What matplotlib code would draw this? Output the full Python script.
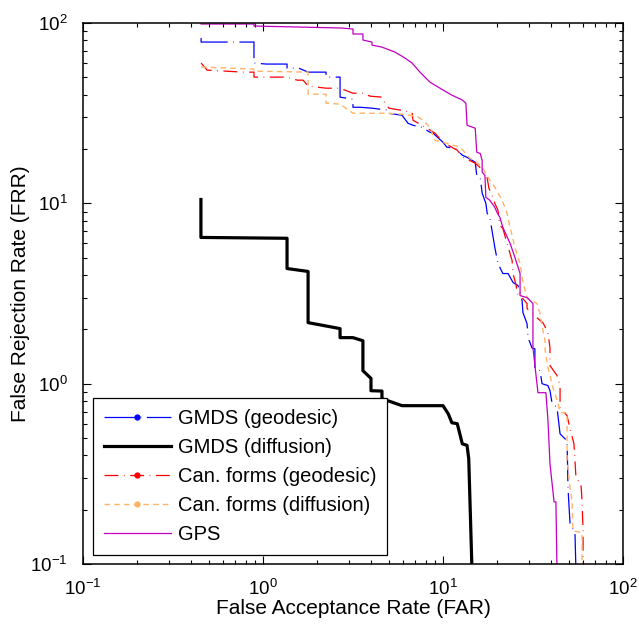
import numpy as np
import matplotlib
matplotlib.use("Agg")
import matplotlib.pyplot as plt
from matplotlib.lines import Line2D
from matplotlib.ticker import LogLocator, NullFormatter

plt.rcParams['font.family'] = ['Liberation Sans', 'DejaVu Sans']
plt.rcParams['mathtext.fontset'] = 'custom'
plt.rcParams['mathtext.rm'] = 'Liberation Sans'
plt.rcParams['axes.unicode_minus'] = False
plt.rcParams['lines.scale_dashes'] = False

# ── DATA: (FAR, FRR) vertices of each ROC step curve, in percent
gmds_geo_far = [0.453, 0.453, 0.891, 0.891, 1.04, 1.36, 1.36, 1.58, 1.78, 2.24, 2.24, 2.68, 2.68,
                3.16, 3.16, 3.46, 4.03, 4.89, 4.95, 5.92, 6.39, 6.81, 7.64, 8.46, 8.80, 10.0, 10.5,
                11.7, 12.8, 13.6, 15.1, 15.4, 16.1, 16.5, 17.3, 17.6, 18.2, 19.0, 19.4, 20.2, 21.5,
                23.0, 24.5, 26.1, 27.5, 27.8, 29.3, 29.7, 31.2, 32.4, 32.4, 34.6, 35.5, 38.3, 39.3,
                40.3, 43.0, 44.7, 48.9, 49.5, 50.8, 54.1, 54.8]
gmds_geo_frr = [82.5, 78.4, 78.4, 60.0, 59.2, 59.2, 56.2, 56.2, 53.4, 53.4, 50.1, 50.1, 38.8,
                37.8, 34.1, 34.1, 33.7, 32.9, 31.6, 30.8, 27.8, 27.1, 26.4, 24.8, 24.5, 21.8, 20.5,
                20.2, 18.5, 18.0, 16.9, 14.3, 13.9, 11.4, 10.0, 8.80, 8.36, 6.47, 5.70, 4.64, 4.08,
                4.08, 3.64, 3.50, 2.89, 2.48, 2.15, 1.80, 1.58, 1.56, 1.21, 1.18, 1.0, 0.975, 0.914,
                0.784, 0.736, 0.527, 0.482, 0.261, 0.167, 0.149, 0.09]

gmds_dif_far = [0.452, 0.452, 1.36, 1.36, 1.78, 1.78, 2.68, 2.68, 3.16, 3.59, 3.59, 3.98, 3.98,
                4.58, 4.58, 5.92, 10.0, 10.7, 11.2, 12.0, 12.8, 13.6, 13.9, 14.5]
gmds_dif_frr = [10.5, 6.47, 6.40, 4.35, 4.19, 2.18, 2.02, 1.80, 1.80, 1.73, 1.18, 1.07, 0.914,
                0.91, 0.826, 0.755, 0.755, 0.68, 0.607, 0.60, 0.464, 0.455, 0.383, 0.09]

can_geo_far = [0.453, 0.489, 0.774, 0.891, 0.891, 1.36, 1.55, 1.67, 1.78, 2.24, 2.68, 3.16, 3.59,
               3.93, 4.58, 4.64, 5.01, 6.31, 6.73, 6.81, 8.15, 9.03, 10.0, 12.0, 12.9, 15.1, 17.1,
               17.6, 18.0, 19.0, 19.4, 20.2, 20.7, 21.5, 22.7, 24.2, 24.5, 25.5, 25.8, 27.5, 29.3,
               29.3, 34.6, 35.9, 38.3, 39.3, 39.3, 43.0, 44.7, 44.7, 48.9, 50.8, 53.4, 54.8, 58.4,
               59.2, 60.0, 60.0]
can_geo_frr = [60.0, 54.8, 53.4, 53.4, 50.1, 50.1, 48.2, 48.2, 44.7, 43.5, 43.5, 40.8, 40.8,
               39.3, 38.8, 37.4, 33.7, 32.4, 32.0, 28.9, 26.1, 24.5, 21.8, 19.7, 18.0, 16.7, 14.9,
               13.8, 12.1, 10.7, 10.0, 9.15, 7.55, 7.26, 5.99, 4.82, 4.08, 3.50, 3.16, 3.00, 2.78,
               2.61, 2.24, 2.18, 1.92, 1.58, 1.26, 1.11, 0.975, 0.736, 0.664, 0.562, 0.464, 0.301,
               0.278, 0.224, 0.153, 0.09]

can_dif_far = [0.453, 0.891, 0.891, 1.78, 1.78, 1.78, 2.24, 2.24, 2.68, 3.16, 4.89, 5.92, 7.17,
               7.74, 8.46, 9.03, 10.5, 12.4, 12.9, 14.1, 15.4, 16.7, 18.2, 19.4, 21.3, 22.7, 23.3,
               25.1, 26.8, 27.8, 29.3, 33.3, 34.6, 35.9, 36.9, 36.9, 38.3, 40.8, 43.5, 44.7, 48.9,
               48.9, 50.8, 52.1, 52.7, 59.2, 59.2]
can_dif_frr = [57.0, 55.5, 54.1, 53.4, 48.2, 40.3, 40.3, 35.9, 35.5, 31.6, 31.6, 31.2, 30.4,
               28.9, 26.4, 22.4, 21.5, 20.5, 19.7, 17.8, 16.9, 15.6, 13.4, 12.3, 10.4, 8.80, 7.74,
               5.70, 4.64, 3.64, 3.00, 2.78, 2.45, 1.97, 1.73, 1.53, 1.23, 0.95, 0.784, 0.69, 0.69,
               0.373, 0.265, 0.224, 0.153, 0.149, 0.09]

gps_far = [0.453, 0.891, 0.891, 2.72, 3.16, 3.16, 3.59, 3.59, 4.03, 4.03, 4.58, 5.41, 6.15, 6.73,
           7.45, 8.46, 9.62, 11.2, 12.8, 13.4, 13.6, 15.1, 15.4, 16.1, 16.5, 16.5, 17.1, 17.3,
           18.2, 19.4, 19.95, 20.7, 21.5, 23.6, 25.1, 26.8, 26.8, 29.3, 31.6, 31.6, 33.7, 37.3,
           38.3, 39.3, 41.4, 42.4, 43.0]
gps_frr = [98.7, 98.7, 96.2, 93.8, 92.6, 86.9, 86.9, 80.5, 78.4, 75.4, 73.5, 69.0, 63.9, 60.0,
           53.4, 47.0, 43.5, 39.8, 37.4, 35.9, 27.1, 26.1, 19.2, 18.9, 17.3, 14.9, 14.3, 10.8,
           10.4, 9.50, 8.91, 8.36, 7.36, 5.99, 5.01, 4.08, 3.08, 3.00, 2.78, 1.58, 0.891, 0.891,
           0.623, 0.359, 0.221, 0.221, 0.09]

labels = ['GMDS (geodesic)', 'GMDS (diffusion)', 'Can. forms (geodesic)',
          'Can. forms (diffusion)', 'GPS']

BLUE, RED, ORANGE, MAG = '#0000FF', '#FF0000', '#FFB366', '#C000C0'
DASH_BLUE = (0, (22, 4, 0.5, 4))
DASH_RED = (0, (10, 4, 0.5, 4))
DASH_ORANGE = (0, (4, 3))

fig = plt.figure(figsize=(6.39, 6.29), dpi=100)
ax = fig.add_axes([83 / 639, 1 - 564 / 629, 540 / 639, 541 / 629])

ax.plot(gmds_geo_far, gmds_geo_frr, color=BLUE, lw=0.9, ls=DASH_BLUE)
ax.plot(can_geo_far, can_geo_frr, color=RED, lw=0.9, ls=DASH_RED)
ax.plot(can_dif_far, can_dif_frr, color=ORANGE, lw=1.0, ls=DASH_ORANGE)
ax.plot(gps_far, gps_frr, color=MAG, lw=0.9)
ax.plot(gmds_dif_far, gmds_dif_frr, color='black', lw=2.3)

ax.set_xscale('log')
ax.set_yscale('log')
ax.set_xlim(0.1, 100)
ax.set_ylim(0.1, 100)

for axis in (ax.xaxis, ax.yaxis):
    axis.set_major_locator(LogLocator(base=10, numticks=10))
    axis.set_minor_locator(LogLocator(base=10, subs=np.arange(2, 10), numticks=10))
    axis.set_minor_formatter(NullFormatter())
ax.tick_params(which='both', direction='in', top=True, right=True, width=0.8)
ax.tick_params(which='major', length=6, labelsize=13.5)
ax.tick_params(which='minor', length=3)
ax.tick_params(axis='x', which='major', pad=11)
ax.tick_params(axis='y', which='major', pad=11)
for s in ax.spines.values():
    s.set_linewidth(1.1)

ax.set_xlabel('False Acceptance Rate (FAR)', fontsize=15)
ax.set_ylabel('False Rejection Rate (FRR)', fontsize=15)
ax.xaxis.set_label_coords(0.5, -0.064)
ax.yaxis.set_label_coords(-0.098, 0.5)

handles = [
    Line2D([], [], color=BLUE, lw=0.9, ls=DASH_BLUE, marker='o', ms=3.5),
    Line2D([], [], color='black', lw=2.3),
    Line2D([], [], color=RED, lw=0.9, ls=DASH_RED, marker='o', ms=3.5),
    Line2D([], [], color=ORANGE, lw=1.0, ls=DASH_ORANGE, marker='o', ms=3.5),
    Line2D([], [], color=MAG, lw=0.9),
]
leg = ax.legend(handles, labels, loc='lower left', bbox_to_anchor=(10 / 540, 9 / 541),
                borderaxespad=0, fontsize=14.5, fancybox=False, framealpha=1,
                edgecolor='black', handlelength=3.3, handletextpad=0.35,
                labelspacing=0.5, borderpad=0.55, numpoints=1)
leg.get_frame().set_linewidth(0.9)

fig.savefig('out.png', dpi=100)
